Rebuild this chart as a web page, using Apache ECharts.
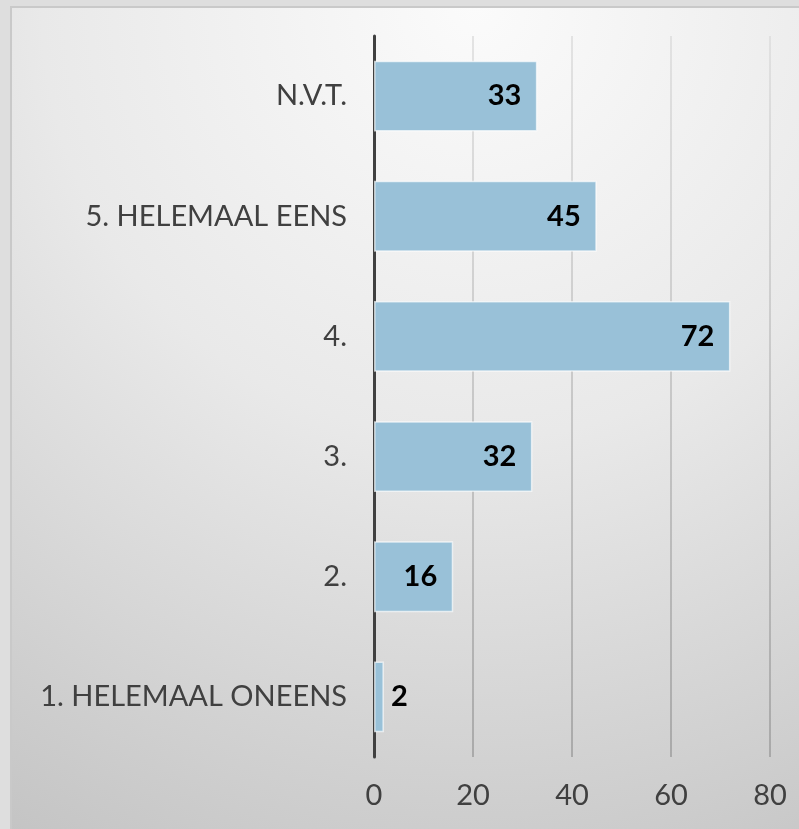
<!DOCTYPE html>
<html>
<head>
<meta charset="utf-8">
<style>
  html, body { margin: 0; padding: 0; background: #dedede; }
  #chart { width: 799px; height: 829px; }
</style>
<script src="https://cdn.jsdelivr.net/npm/echarts@6/dist/echarts.min.js"></script>
</head>
<body>
<div id="chart"></div>
<script>
// Answer categories, bottom to top
const categories = ['1. HELEMAAL ONEENS', '2.', '3.', '4.', '5. HELEMAAL EENS', 'N.V.T.'];
// Number of responses per answer
const counts = [2, 16, 32, 72, 45, 33];
// Value axis ticks
const axisMin = 0;
const axisMax = 80;
const axisStep = 20;

const FONT = 'Lato, "Noto Sans", sans-serif';

const chart = echarts.init(document.getElementById('chart'), null, { renderer: 'canvas' });

// Short bars get their label beside the bar instead of inside it
const barData = counts.map(v => ({
  value: v,
  label: v < 8 ? { position: 'right', distance: 7 } : {}
}));

chart.setOption({
  backgroundColor: '#dedede',
  animation: false,
  graphic: [{
    type: 'rect',
    z: -10,
    silent: true,
    shape: { x: 11, y: 7, width: 800, height: 830 },
    style: {
      fill: {
        type: 'radial', x: 0.58, y: 0.0, r: 1.2,
        colorStops: [
          { offset: 0, color: '#fbfbfb' },
          { offset: 0.45, color: '#e9e9e9' },
          { offset: 1, color: '#c3c3c3' }
        ]
      },
      stroke: '#c9c9c9',
      lineWidth: 2
    }
  }],
  grid: { left: 374, right: 29, top: 36, bottom: 72, containLabel: false },
  xAxis: {
    type: 'value',
    min: axisMin,
    max: axisMax,
    interval: axisStep,
    axisLine: { show: false },
    axisTick: { show: false },
    axisLabel: { color: '#404040', fontFamily: FONT, fontSize: 29, margin: 24 },
    splitLine: {
      show: true,
      lineStyle: {
        width: 1.5,
        color: {
          type: 'linear', global: true, x: 0, y: 36, x2: 0, y2: 757,
          colorStops: [
            { offset: 0, color: '#dcdcdc' },
            { offset: 1, color: '#9c9c9c' }
          ]
        }
      }
    }
  },
  yAxis: {
    type: 'category',
    data: categories,
    axisLine: { show: true, lineStyle: { color: '#404040', width: 3 } },
    axisTick: { show: false },
    axisLabel: { color: '#404040', fontFamily: FONT, fontSize: 29, margin: 27 },
    splitLine: { show: false }
  },
  series: [{
    type: 'bar',
    data: barData,
    barCategoryGap: '41%',
    itemStyle: {
      color: '#99c1d8',
      borderColor: 'rgba(255,255,255,0.65)',
      borderWidth: 1.5
    },
    label: {
      show: true,
      position: 'insideRight',
      distance: 16,
      color: '#000',
      fontFamily: FONT,
      fontWeight: 'bold',
      fontSize: 29
    }
  }]
});
</script>
</body>
</html>
